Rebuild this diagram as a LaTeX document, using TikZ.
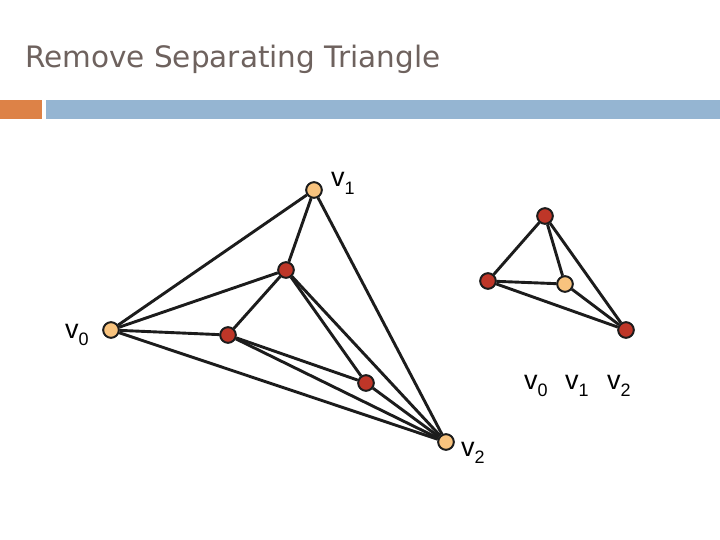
\documentclass[tikz,border=0pt]{standalone}
\usepackage{fontspec}
\setmainfont{DejaVu Sans}
\newfontfamily\lblfont{Liberation Sans}
\definecolor{titlec}{HTML}{6E625E}
\definecolor{barorange}{HTML}{DD8247}
\definecolor{barblue}{HTML}{95B5D2}
\definecolor{vorange}{HTML}{F8C37E}
\definecolor{vred}{HTML}{BE3628}
\definecolor{edgec}{HTML}{1C1C1C}
\newcommand{\vlab}[1]{v\raisebox{-0.5ex}{\fontsize{18}{18}\selectfont #1}}
\begin{document}
\begin{tikzpicture}[x=1pt,y=-1pt,
  vo/.style={circle,draw=edgec,line width=1.8pt,fill=vorange,minimum size=15.5pt,inner sep=0pt},
  vr/.style={circle,draw=edgec,line width=1.8pt,fill=vred,minimum size=15.5pt,inner sep=0pt},
  edge/.style={draw=edgec,line width=2.9pt},
  lbl/.style={font=\lblfont\fontsize{27}{27}\selectfont,inner sep=0pt,anchor=base west}]
\useasboundingbox (0,0) rectangle (720,540);
\fill[white] (0,0) rectangle (720,540);
% title and bars
\node[anchor=base west,inner sep=0pt,text=titlec,font=\fontsize{29.5}{29.5}\selectfont] (title) at (25,68) {Remove Separating Triangle};
\fill[barorange] (0,100) rectangle (42,119);
\fill[barblue] (46,100) rectangle (720,119);
% left graph
\node[vo] (v1) at (314,190) {};
\node[vo] (v0) at (111,330) {};
\node[vo] (v2) at (446,442) {};
\node[vr] (a) at (286,270) {};
\node[vr] (b) at (228,335) {};
\node[vr] (c) at (366,383) {};
\draw[edge] (v0) -- (v1);
\draw[edge] (v0) -- (a);
\draw[edge] (v0) -- (b);
\draw[edge] (v0) -- (v2);
\draw[edge] (v1) -- (a);
\draw[edge] (v1) -- (v2);
\draw[edge] (a) -- (b);
\draw[edge] (a) -- (c);
\draw[edge] (a) -- (v2);
\draw[edge] (b) -- (c);
\draw[edge] (b) -- (v2);
\draw[edge] (c) -- (v2);
\node[vo] at (v1) {};
\node[vo] at (v0) {};
\node[vo] at (v2) {};
\node[vr] at (a) {};
\node[vr] at (b) {};
\node[vr] at (c) {};
\node[lbl] (l1) at (331,187) {\vlab{1}};
\node[lbl] (l0) at (65,338) {\vlab{0}};
\node[lbl] (l2) at (461,456) {\vlab{2}};
% right graph
\node[vr] (t) at (545,216) {};
\node[vr] (l) at (488,281) {};
\node[vo] (m) at (565,284) {};
\node[vr] (r) at (626,330) {};
\draw[edge] (t) -- (l);
\draw[edge] (t) -- (m);
\draw[edge] (t) -- (r);
\draw[edge] (l) -- (m);
\draw[edge] (l) -- (r);
\draw[edge] (m) -- (r);
\node[vr] at (t) {};
\node[vr] at (l) {};
\node[vo] at (m) {};
\node[vr] at (r) {};
\node[lbl] (r0) at (524,389) {\vlab{0}};
\node[lbl] (r1) at (565,389) {\vlab{1}};
\node[lbl] (r2) at (607,389) {\vlab{2}};
\end{tikzpicture}
\end{document}
